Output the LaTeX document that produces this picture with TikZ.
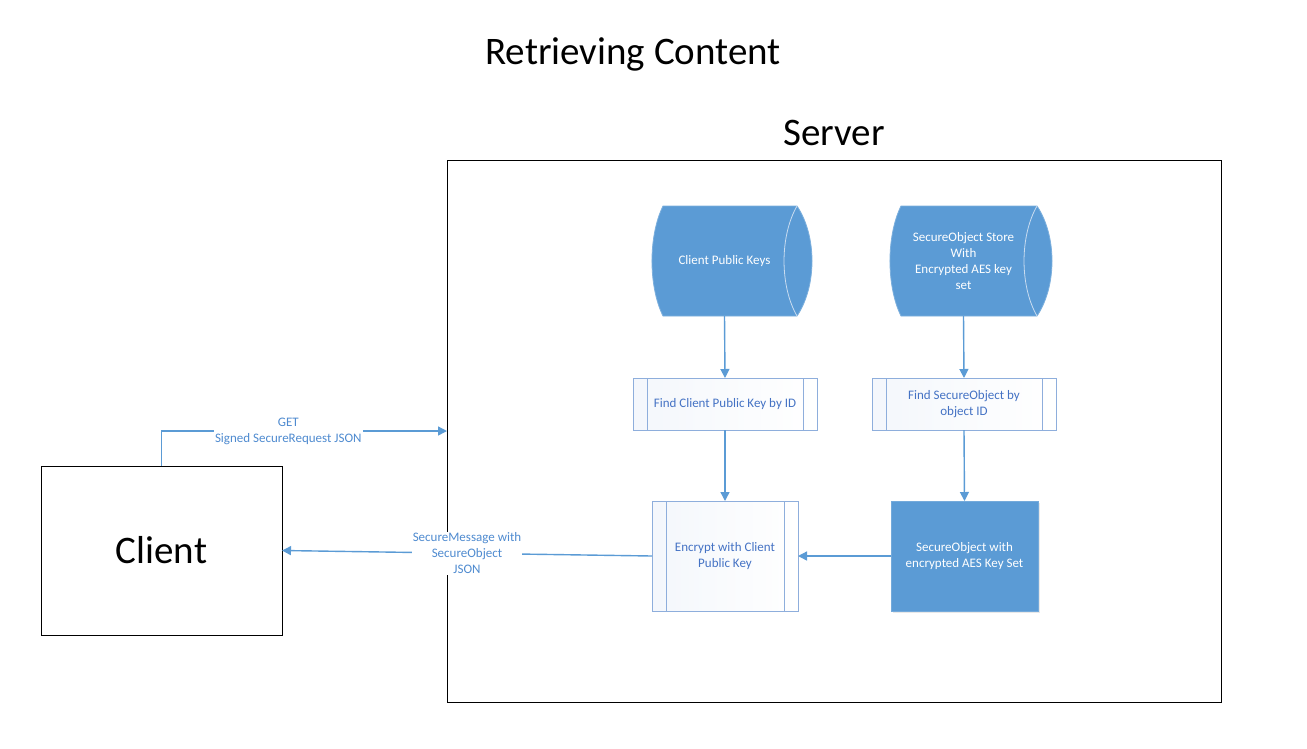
\documentclass[tikz,border=0pt]{standalone}
\usepackage{fontspec}
\setmainfont{Carlito}
\usepackage{xcolor}
\usetikzlibrary{arrows.meta,positioning,calc,backgrounds,shadows}

\definecolor{boxblue}{HTML}{5B9BD5}
\definecolor{procline}{HTML}{8EAEDC}
\definecolor{proctext}{HTML}{4472C4}
\definecolor{lbltext}{HTML}{4F8BD0}
\definecolor{capline}{HTML}{C9DCF0}

\begin{document}
\begin{tikzpicture}[x=1pt, y=-1pt]
  % Definir estilos
  \tikzstyle{big}=[font=\fontsize{39}{47}\selectfont]
  \tikzstyle{frame}=[rectangle, draw=black, line width=0.9pt, inner sep=0, outer sep=0]
  \tikzstyle{store}=[rectangle, inner sep=0, outer sep=0, minimum height=110pt, align=center, text=white, font=\fontsize{13}{16}\selectfont]
  \tikzstyle{proc}=[rectangle, draw=procline, line width=0.9pt, left color=procline!10, right color=white, inner sep=0, outer sep=0, align=center, text=proctext, font=\fontsize{13}{16}\selectfont,
    path picture={
      \draw[procline, line width=0.9pt] ($(path picture bounding box.north west)+(14,0)$) -- ($(path picture bounding box.south west)+(14,0)$);
      \draw[procline, line width=0.9pt] ($(path picture bounding box.north east)+(-14,0)$) -- ($(path picture bounding box.south east)+(-14,0)$);
    }]
  \tikzstyle{data}=[rectangle, draw=boxblue!85!white, fill=boxblue, inner sep=0, outer sep=0, align=center, text=white, font=\fontsize{13}{16}\selectfont,
    drop shadow={opacity=0.18, shadow xshift=2pt, shadow yshift=-2pt}]
  \tikzstyle{flow}=[-{Triangle[length=9pt, width=9pt]}, draw=boxblue, line width=1.4pt]
  \tikzstyle{lbl}=[fill=white, align=center, text=lbltext, inner sep=1pt, font=\fontsize{13}{16}\selectfont]

  \useasboundingbox (0,0) rectangle (1307,748);

  % Titulos
  \node[big] (title) at (633,54) {Retrieving Content};
  \node[big] (servertitle) at (834,133) {Server};

  % Cajas principales
  \node[frame, minimum width=774pt, minimum height=542pt] (server) at (834,431) {};
  \node[frame, minimum width=241pt, minimum height=169pt, big] (client) at (161.5,550.5) {Client};

  % Almacenes de datos
  \node[store, minimum width=145pt] (keys) at (724.5,261) {Client Public Keys};
  \node[store, minimum width=147pt] (objstore) at (963.5,261) {SecureObject Store\\With\\Encrypted AES key\\set};

  % Procesos
  \node[proc, minimum width=184pt, minimum height=52pt] (findkey) at (725,404) {Find Client Public Key by ID};
  \node[proc, minimum width=184pt, minimum height=52pt] (findobj) at (964,404) {Find SecureObject by\\object ID};
  \node[proc, minimum width=146pt, minimum height=110pt] (encrypt) at (725,556) {Encrypt with Client\\Public Key};
  \node[data, minimum width=147pt, minimum height=110pt] (secobj) at (964.5,556) {SecureObject with\\encrypted AES Key Set};

  % Forma de los almacenes (detras del texto)
  \begin{scope}[on background layer]
    \foreach \s/\w in {keys/145, objstore/147} {
      \begin{scope}[shift={(\s.north west)}]
        \filldraw[fill=boxblue, draw=boxblue!80!white, line width=0.8pt]
          (11,0) -- (\w,0) .. controls (\w+20,30) and (\w+20,80) .. (\w,110)
          -- (11,110) .. controls (-3.7,80) and (-3.7,30) .. (11,0) -- cycle;
        \draw[capline, line width=0.8pt] (\w,0) .. controls (\w-17.3,30) and (\w-17.3,80) .. (\w,110);
      \end{scope}
    }
  \end{scope}

  % Flujo dentro del servidor
  \draw[flow] (keys.south) -- (findkey.north);
  \draw[flow] (objstore.south) -- (findobj.north);
  \draw[flow] (findkey.south) -- (encrypt.north);
  \draw[flow] (findobj.south) -- (secobj.north);
  \draw[flow] (secobj.west) -- (encrypt.east);

  % Peticion y respuesta con el cliente
  \draw[flow] (client.north) |- node[lbl, pos=0.722] {GET\\Signed SecureRequest JSON} (server.west);
  \draw[flow] (encrypt.west) -- node[lbl, pos=0.5] {SecureMessage with\\SecureObject\\JSON} (client.east);
\end{tikzpicture}
\end{document}
